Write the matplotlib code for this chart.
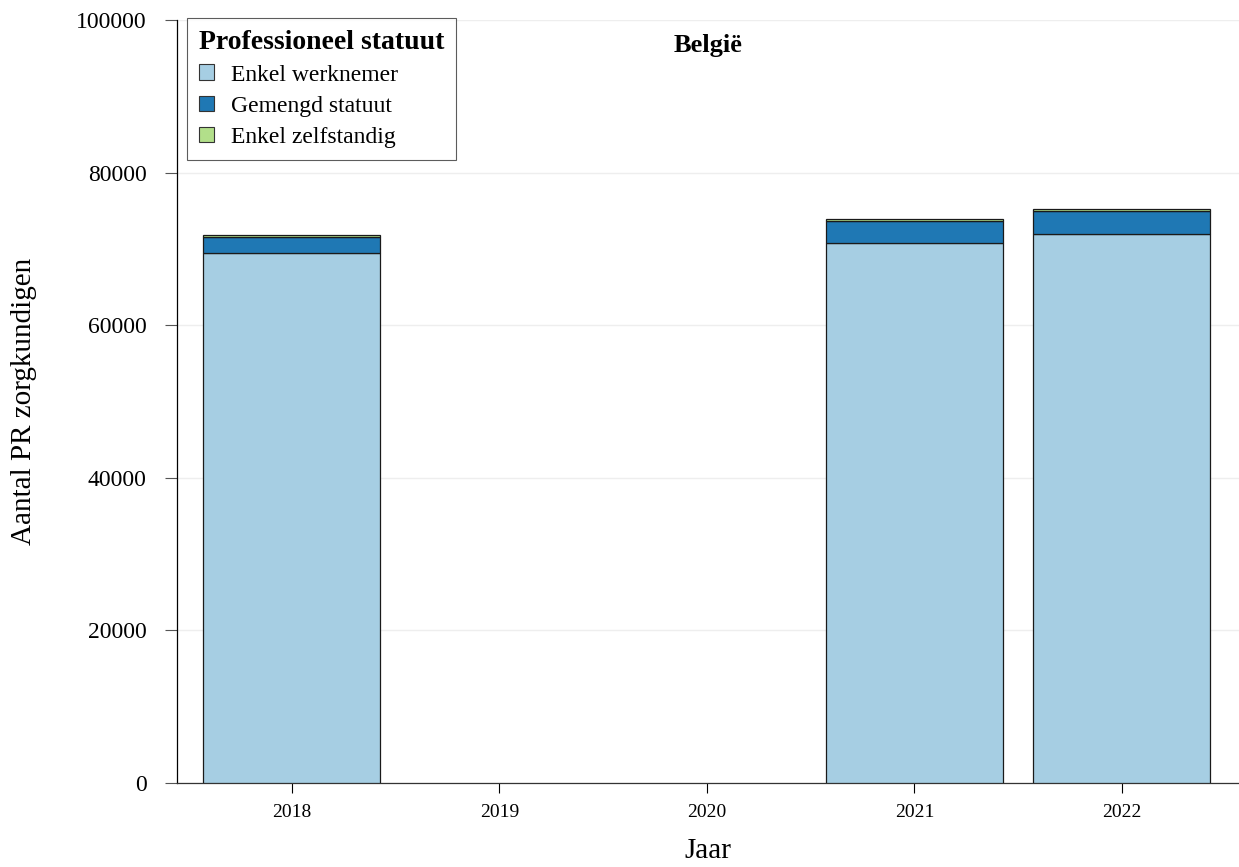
import numpy as np
from matplotlib import pyplot as plt
from matplotlib.patches import Patch

plt.rcParams['font.family'] = ['Liberation Serif', 'DejaVu Serif']

years = [2018, 2019, 2020, 2021, 2022]
enkel_werknemer = [69500, 0, 0, 70800, 71950]
gemengd_statuut = [2100, 0, 0, 2900, 3050]
enkel_zelfstandig = [260, 0, 0, 230, 230]

labels = ['Enkel werknemer', 'Gemengd statuut', 'Enkel zelfstandig']
colors = ['#a6cee3', '#1f78b4', '#b2df8a']
y_ticks = [0, 20000, 40000, 60000, 80000, 100000]

fig = plt.figure(figsize=(12.39, 8.67), dpi=100)
ax = fig.add_axes([177 / 1239, 1 - 783 / 867, 1 - 177 / 1239, (783 - 20) / 867])

x = np.array(years)
series = [enkel_werknemer, gemengd_statuut, enkel_zelfstandig]
bottom = np.zeros(len(years))
for vals, col in zip(series, colors):
    vals = np.array(vals, dtype=float)
    mask = vals > 0
    ax.bar(x[mask], vals[mask], width=0.853, bottom=bottom[mask], color=col,
           edgecolor='#1a1a1a', linewidth=0.9, zorder=3)
    bottom += vals

ax.set_xlim(2017.446, 2022.564)
ax.set_ylim(0, 100000)
ax.set_xticks(years)
ax.set_xticklabels([str(y) for y in years], fontsize=14)
ax.set_yticks(y_ticks)
ax.set_yticklabels([str(v) for v in y_ticks], fontsize=17)
ax.tick_params(axis='y', length=9, width=0.8, color='#555555', pad=13)
ax.tick_params(axis='x', length=7, width=0.8, color='black', pad=8)

ax.grid(axis='y', color='#eeeeee', linewidth=1, zorder=0)
for s in ['top', 'right']:
    ax.spines[s].set_visible(False)
ax.spines['left'].set_linewidth(0.9)
ax.spines['bottom'].set_linewidth(0.9)
ax.spines['bottom'].set_color('#333333')

ax.set_xlabel('Jaar', fontsize=21)
ax.xaxis.set_label_coords(0.5, -0.072)
ax.set_ylabel('Aantal PR zorgkundigen', fontsize=21)
ax.yaxis.set_label_coords(-0.132, 0.5)
ax.text(0.5, 0.981, 'België', transform=ax.transAxes, ha='center', va='top',
        fontsize=19, fontweight='bold')

handles = [Patch(facecolor=c, edgecolor='#333333', linewidth=0.8) for c in colors]
leg = ax.legend(handles, labels, title='Professioneel statuut', loc='upper left',
                bbox_to_anchor=(10 / 1062, 1.003), borderaxespad=0,
                fontsize=17, title_fontproperties={'weight': 'bold', 'size': 20},
                alignment='left', frameon=True, fancybox=False,
                handlelength=0.65, handleheight=0.65, handletextpad=0.7,
                labelspacing=0.42, borderpad=0.5)
leg.get_frame().set_edgecolor('#333333')
leg.get_frame().set_linewidth(0.8)
leg.set_zorder(5)

fig.savefig('out.png', dpi=100)
